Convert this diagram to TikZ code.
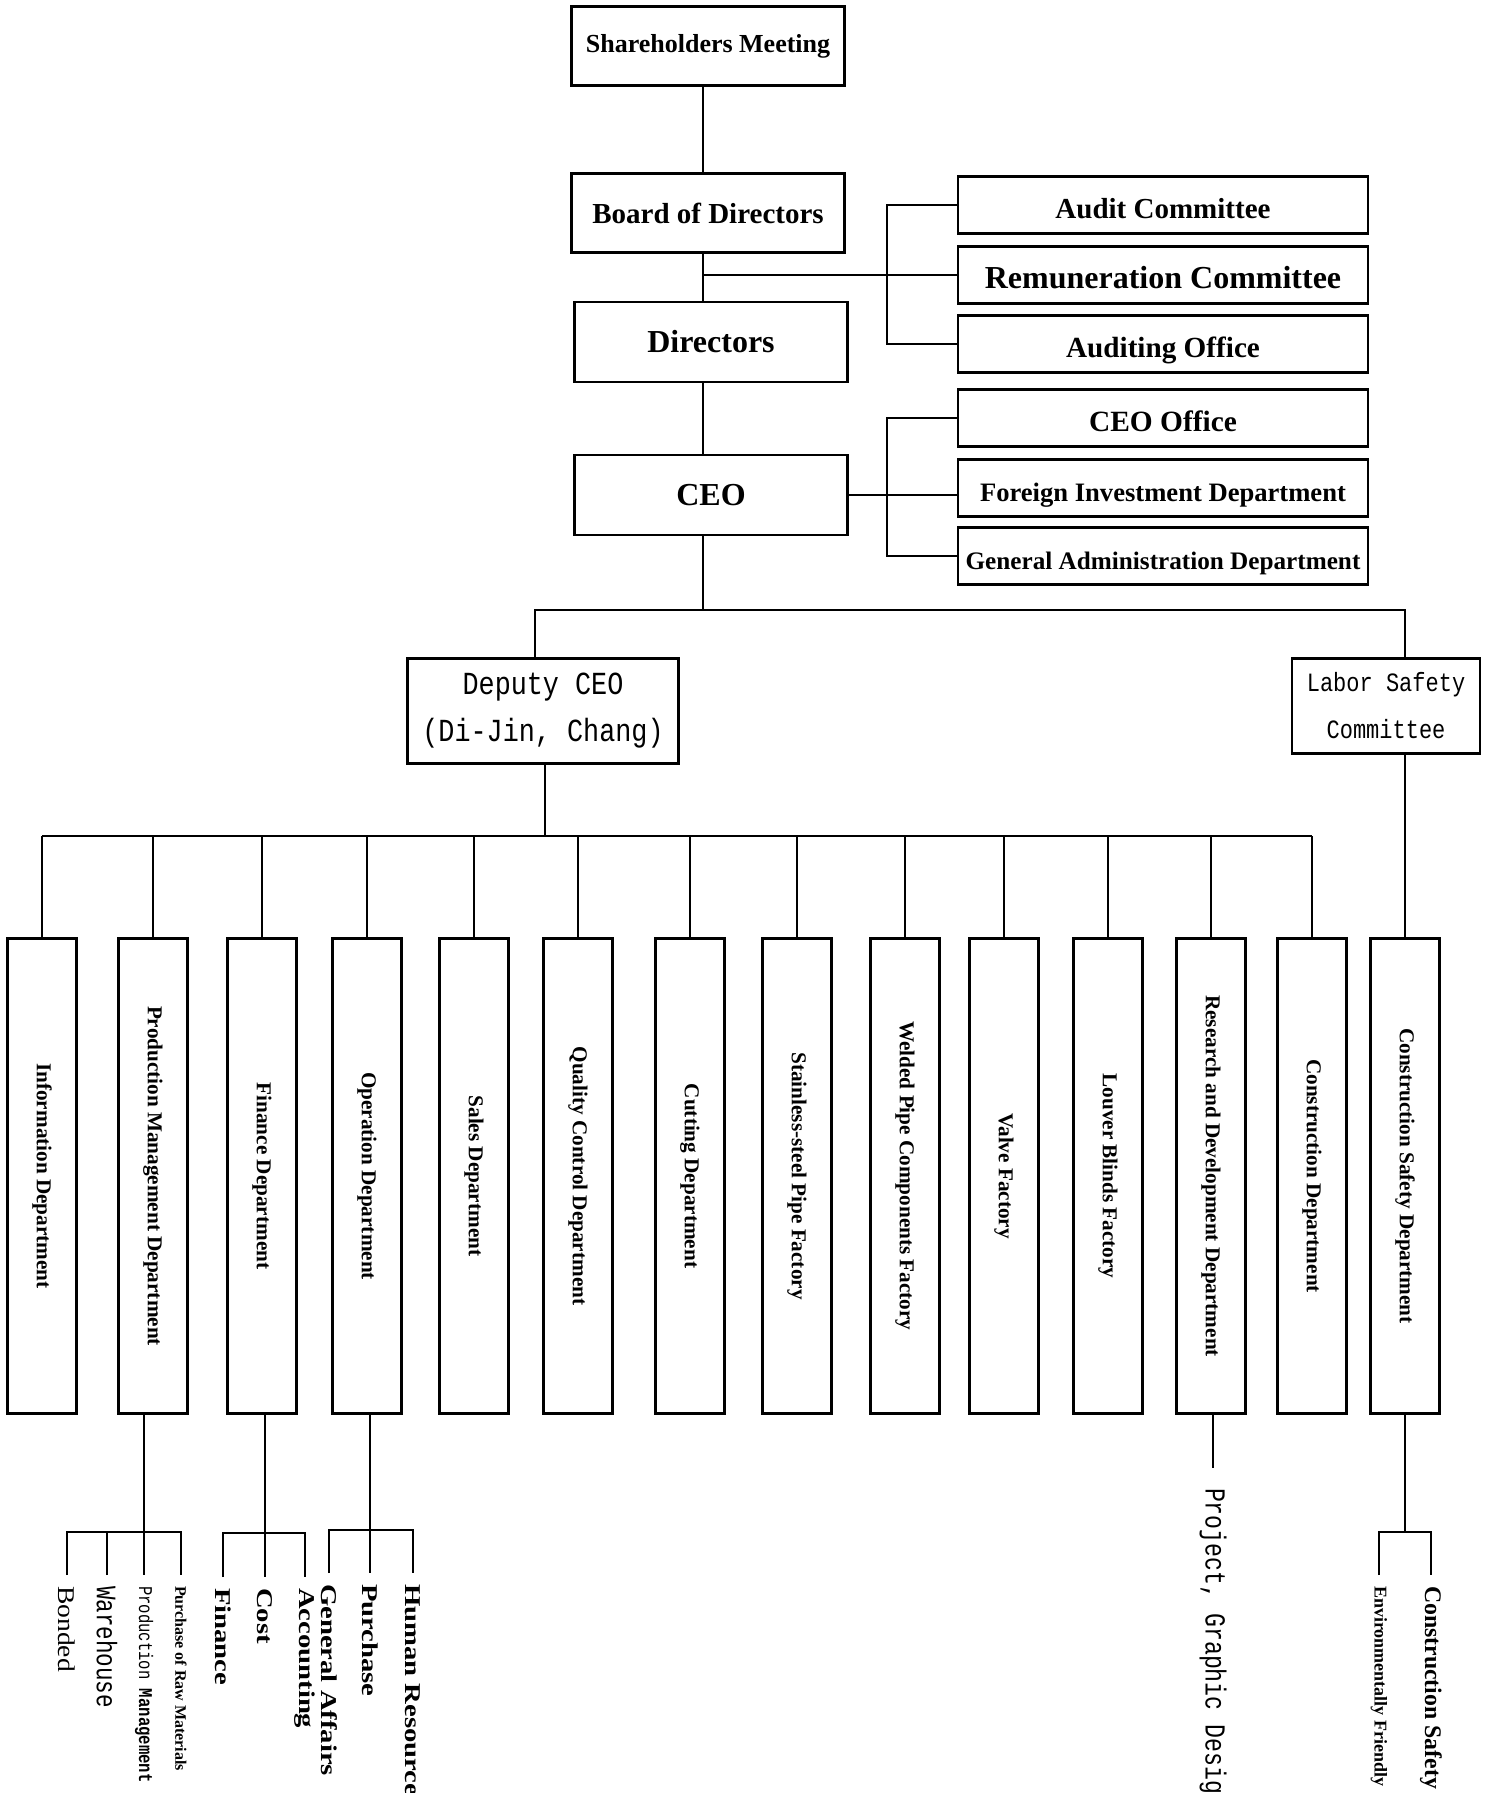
\documentclass[tikz,border=0pt]{standalone}
\usepackage{fontspec}
\setmainfont{Liberation Serif}
\newfontfamily\cjkmono{Liberation Mono}
\usetikzlibrary{positioning}
\newcommand{\orgsize}[1]{\fontsize{#1}{#1}\selectfont}
% turned text, stretched along its length (#1) and across it (#2)
\newcommand{\vtext}[3]{\rotatebox{-90}{\scalebox{#1}[#2]{#3}}}

\begin{document}
\begin{tikzpicture}[
		x=0.5pt, y=-0.5pt, line width=1pt,
		box/.style={draw, line width=1.3pt, inner sep=0pt, align=center},
		mainbox/.style={box, minimum width=136.5pt, minimum height=39.5pt},
		sidebox/.style={box, minimum width=205pt, minimum height=28.5pt, text height=16pt, text depth=3pt},
		deptbox/.style={box, minimum width=34.3pt, minimum height=237.5pt, font=\orgsize{10.6}\bfseries},
		leaf/.style={anchor=north, inner sep=5pt},
		bigleaf/.style={leaf, font=\orgsize{11.3}\bfseries}
	]
	\useasboundingbox (0,0) rectangle (1487,1793);

	% governance column
	\node[mainbox, font=\orgsize{13}\bfseries] (share) at (708,46) {Shareholders Meeting};
	\node[mainbox, font=\orgsize{14.5}\bfseries] (board) at (708,213) {Board of Directors};
	\node[mainbox, font=\orgsize{16}\bfseries, minimum height=40pt] (dirs) at (711,342) {Directors};
	\node[mainbox, font=\orgsize{16}\bfseries, minimum height=40pt] (ceo) at (711,495) {CEO};

	% committees and offices
	\node[sidebox, font=\orgsize{14.5}\bfseries] (audit) at (1163,205) {Audit Committee};
	\node[sidebox, font=\orgsize{16}\bfseries] (remun) at (1163,275) {Remuneration Committee};
	\node[sidebox, font=\orgsize{14.6}\bfseries] (auditoff) at (1163,344) {Auditing Office};
	\node[sidebox, font=\orgsize{14.7}\bfseries] (ceooff) at (1163,418) {CEO Office};
	\node[sidebox, font=\orgsize{13.3}\bfseries] (foreign) at (1163,488) {Foreign Investment Department};
	\node[sidebox, font=\orgsize{12.6}\bfseries] (genadm) at (1163,556) {General Administration Department};

	% second level
	\node[box, minimum width=135.5pt, minimum height=52.5pt,
	      font=\cjkmono\fontsize{13.4}{23.5}\selectfont] (deputy) at (543,711)
	     {\scalebox{1}[1.2]{Deputy CEO}\\\scalebox{1}[1.2]{(Di-Jin, Chang)}};
	\node[box, minimum width=94pt, minimum height=47.5pt,
	      font=\cjkmono\fontsize{11}{23.5}\selectfont] (labor) at (1386,706)
	     {\scalebox{1}[1.2]{Labor Safety}\\\scalebox{1}[1.2]{Committee}};

	% departments
	\node[deptbox] (info) at (42,1176) {\rotatebox{-90}{Information Department}};
	\node[deptbox] (prodmgmt) at (153,1176) {\rotatebox{-90}{Production Management Department}};
	\node[deptbox] (finance) at (262,1176) {\rotatebox{-90}{Finance Department}};
	\node[deptbox] (operation) at (367,1176) {\rotatebox{-90}{Operation Department}};
	\node[deptbox] (sales) at (474,1176) {\rotatebox{-90}{Sales Department}};
	\node[deptbox] (qc) at (578,1176) {\rotatebox{-90}{Quality Control Department}};
	\node[deptbox] (cutting) at (690,1176) {\rotatebox{-90}{Cutting Department}};
	\node[deptbox] (stainless) at (797,1176) {\rotatebox{-90}{Stainless-steel Pipe Factory}};
	\node[deptbox] (welded) at (905,1176) {\rotatebox{-90}{Welded Pipe Components Factory}};
	\node[deptbox] (valve) at (1004,1176) {\rotatebox{-90}{Valve Factory}};
	\node[deptbox] (louver) at (1108,1176) {\rotatebox{-90}{Louver Blinds Factory}};
	\node[deptbox] (rnd) at (1211,1176) {\rotatebox{-90}{Research and Development Department}};
	\node[deptbox] (constr) at (1312,1176) {\rotatebox{-90}{Construction Department}};
	\node[deptbox] (csafety) at (1405,1176) {\rotatebox{-90}{Construction Safety Department}};

	% sections
	\node[leaf, font=\orgsize{12}] (bonded) at (67,1575) {\vtext{1.15}{1}{Bonded}};
	\node[leaf, font=\cjkmono\orgsize{11.3}] (warehouse) at (107,1575) {\vtext{1}{1.25}{Warehouse}};
	\node[leaf, font=\cjkmono\orgsize{7.8}] (pmsub) at (144,1575) {\vtext{1}{1.25}{Production \textbf{Management}}};
	\node[leaf, font=\orgsize{8}\bfseries] (rawmat) at (181,1575) {\vtext{1}{1}{Purchase of Raw Materials}};
	\node[bigleaf] (finsub) at (223,1577) {\vtext{1.27}{1}{Finance}};
	\node[bigleaf] (cost) at (265,1577) {\vtext{1.27}{1}{Cost}};
	\node[bigleaf] (acct) at (305,1577) {\vtext{1.27}{1}{Accounting}};
	\node[bigleaf] (genaff) at (329,1573) {\vtext{1.27}{1}{General Affairs}};
	\node[bigleaf] (purch) at (370,1573) {\vtext{1.27}{1}{Purchase}};
	\node[bigleaf] (hr) at (413,1573) {\vtext{1.27}{1}{Human Resource}};
	\node[leaf, inner sep=9.5pt, font=\cjkmono\orgsize{11.6}] (proj) at (1213,1468) {\vtext{1}{1.25}{Project, Graphic Design}};
	\node[leaf, font=\orgsize{9}\bfseries] (env) at (1379,1575) {\vtext{1}{1}{Environmentally Friendly}};
	\node[leaf, font=\orgsize{11.9}\bfseries] (cssub) at (1431,1575) {\vtext{1}{1}{Construction Safety}};

	\coordinate (trunk) at (703,0);
	\coordinate (depin) at (535,0);
	\coordinate (split) at (703,610);
	\coordinate (deptbus) at (545,836);
	\coordinate (hubP) at (144,1532);
	\coordinate (hubF) at (265,1533);
	\coordinate (hubO) at (370,1530);
	\coordinate (hubC) at (1405,1532);

	% top connectors
	\draw (share.south -| trunk) -- (board.north -| trunk);
	\draw (board.south -| trunk) -- (dirs.north -| trunk);
	\draw (dirs.south -| trunk) -- (ceo.north -| trunk);
	\draw (trunk |- remun.west) -- (remun.west);
	\draw (audit.west) -- ++(-70,0) |- (auditoff.west);
	\draw (ceo.east) -- (ceo.east -| foreign.west);
	\draw (ceooff.west) -- ++(-70,0) |- (genadm.west);

	% second level connectors
	\draw (ceo.south -| trunk) -- (split);
	\draw (deputy.north -| depin) |- (split) -| (labor.north -| csafety.north);
	\draw (labor.south -| csafety.north) -- (csafety.north);
	\draw (deputy.south -| deptbus) -- (deptbus);
	\draw (info.north |- deptbus) -- (constr.north |- deptbus);
	\foreach \d in {info, prodmgmt, finance, operation, sales, qc, cutting,
	                stainless, welded, valve, louver, rnd, constr}
		\draw (\d.north) -- (\d.north |- deptbus);

	% section connectors
	\draw (prodmgmt.south -| pmsub.north) -- (pmsub.north);
	\draw (bonded.north) |- (hubP) -| (rawmat.north);
	\draw (warehouse.north) -- (warehouse.north |- hubP);
	\draw (finance.south -| cost.north) -- (cost.north);
	\draw (finsub.north) |- (hubF) -| (acct.north);
	\draw (operation.south -| purch.north) -- (purch.north);
	\draw (genaff.north) |- (hubO) -| (hr.north);
	\draw (rnd.south -| proj.north) -- (proj.north);
	\draw (csafety.south) -- (hubC);
	\draw (env.north) |- (hubC) -| (cssub.north);
\end{tikzpicture}
\end{document}
